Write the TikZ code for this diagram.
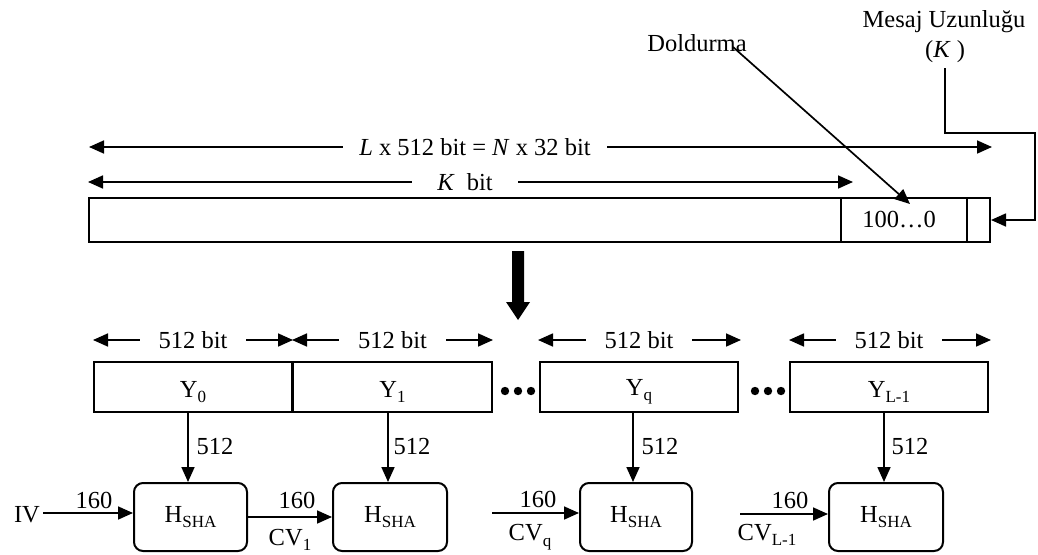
\documentclass[tikz,border=0pt]{standalone}
\usepackage{fontspec}
\setmainfont{Liberation Serif}
\usetikzlibrary{arrows.meta}
% lowered small text for indices
\newcommand\sbs[1]{\raisebox{-0.22em}{\fontsize{17}{17}\selectfont #1}}
\begin{document}
\begin{tikzpicture}[x=1pt,y=-1pt,
  font=\fontsize{24.5}{28}\selectfont,
  every node/.style={inner sep=0pt},
  tip/.style={-{Triangle[length=15pt,width=13pt]}},
  arr/.style={line width=1.7pt,tip},
  dbl/.style={line width=1.7pt,{Triangle[length=15pt,width=13pt]}-{Triangle[length=15pt,width=13pt]}},
  blk/.style={draw,line width=2pt,minimum height=50pt},
  seg/.style={draw,line width=2pt,minimum height=44pt},
  hbox/.style={draw,line width=2pt,rounded corners=9pt,minimum height=68pt},
  gaplbl/.style={fill=white,inner xsep=19pt,inner ysep=3pt}]

\fill[white] (0,0) rectangle (1038,554);
\useasboundingbox (0,0) rectangle (1038,554);

% ---- padded message ----
\node[seg,minimum width=752pt] (msg) at (465,220) {};
\node[seg,minimum width=126pt] (pad) at (904,220) {};
\node[seg,minimum width=23pt] (len) at (978.5,220) {};
\node (padtxt) at (899,220) {100…0};

% total and message lengths
\coordinate (LA) at (89,147);
\coordinate (LB) at (992,147);
\draw[dbl] (LA) -- (LB);
\node[gaplbl,inner xsep=16pt] (Ltxt) at (475,147) {\textit{L} x 512 bit = \textit{N} x 32 bit};
\coordinate (KA) at (88,182);
\coordinate (KB) at (853,182);
\draw[dbl] (KA) -- (KB);
\node[gaplbl,inner xsep=25pt] (Ktxt) at (465,182) {\textit{K}\ \ bit};

% padding and length annotations
\node (dold) at (697,43) {Doldurma};
\coordinate (dolA) at (733,47);
\coordinate (dolB) at (910,204);
\draw[arr] (dolA) -- (dolB);
\node (mes) at (944,22) {Mesaj Uzunluğu};
\node (klab) at (945,52) {(\textit{K} )};
\coordinate (kbend) at (1035,133);
\draw[arr] ([yshift=-5pt]klab.south) |- (kbend) |- (len.east);

% splitting arrow
\fill (512,251) -- (524,251) -- (524,302) -- (530,302) -- (518,320)
      -- (506,302) -- (512,302) -- cycle;

% ---- 512-bit blocks ----
\node[blk,minimum width=198pt] (y0) at (193,387) {};
\node[blk,minimum width=199pt] (y1) at (392.5,387) {};
\node[blk,minimum width=198pt] (yq) at (639,387) {};
\node[blk,minimum width=198pt] (yl) at (889,387) {};
\node (y0t) at (193,392) {Y\sbs{0}};
\node (y1t) at (392.5,392) {Y\sbs{1}};
\node (yqt) at (639,392) {Y\sbs{q}};
\node (ylt) at (889,392) {Y\sbs{L-1}};

\foreach \i in {505,518,531,755,768,781}
  \fill (\i,391) circle (4.2);

% block widths
\draw[dbl] (y0.west |- 0,340) -- (y0.east |- 0,340);
\node[gaplbl] (w0) at (193,340) {512 bit};
\draw[dbl] (y1.west |- 0,340) -- (y1.east |- 0,340);
\node[gaplbl] (w1) at (392.5,340) {512 bit};
\draw[dbl] (538,340) -- (741,340);
\node[gaplbl] (wq) at (639,340) {512 bit};
\draw[dbl] (789,340) -- (991,340);
\node[gaplbl] (wl) at (889,340) {512 bit};

% ---- compression stages ----
\node[hbox,minimum width=113pt] (h0) at (190.5,517) {H\sbs{SHA}};
\node[hbox,minimum width=114pt] (h1) at (390,517) {H\sbs{SHA}};
\node[hbox,minimum width=112pt] (hq) at (636,517) {H\sbs{SHA}};
\node[hbox,minimum width=114pt] (hl) at (886,517) {H\sbs{SHA}};

\draw[arr] ([xshift=-5pt]y0.south) -- ([xshift=-5pt]y0.south |- h0.north);
\draw[arr] ([xshift=-4.5pt]y1.south) -- ([xshift=-4.5pt]y1.south |- h1.north);
\draw[arr] ([xshift=-6pt]yq.south) -- ([xshift=-6pt]yq.south |- hq.north);
\draw[arr] ([xshift=-5pt]yl.south) -- ([xshift=-5pt]yl.south |- hl.north);
\node (n0) at (215,447) {512};
\node (n1) at (412,447) {512};
\node (nq) at (660,447) {512};
\node (nl) at (910,447) {512};

% chaining values
\node (iv) at (27,515) {IV};
\coordinate (ivA) at (43,513);
\draw[arr] (ivA) -- (ivA -| h0.west);
\node (c0) at (94,500) {160};

\draw[arr] (h0.east) -- (h1.west);
\node (c1) at (297,500) {160};
\node (cv1) at (290,540) {CV\sbs{1}};

\coordinate (cvqA) at (492,513);
\draw[arr] (cvqA) -- (cvqA -| hq.west);
\node (cq) at (538,499) {160};
\node (cvq) at (530,537) {CV\sbs{q}};

\coordinate (cvlA) at (740,514);
\draw[arr] (cvlA) -- (cvlA -| hl.west);
\node (cl) at (790,500) {160};
\node (cvl) at (767,535) {CV\sbs{L-1}};
\end{tikzpicture}
\end{document}
